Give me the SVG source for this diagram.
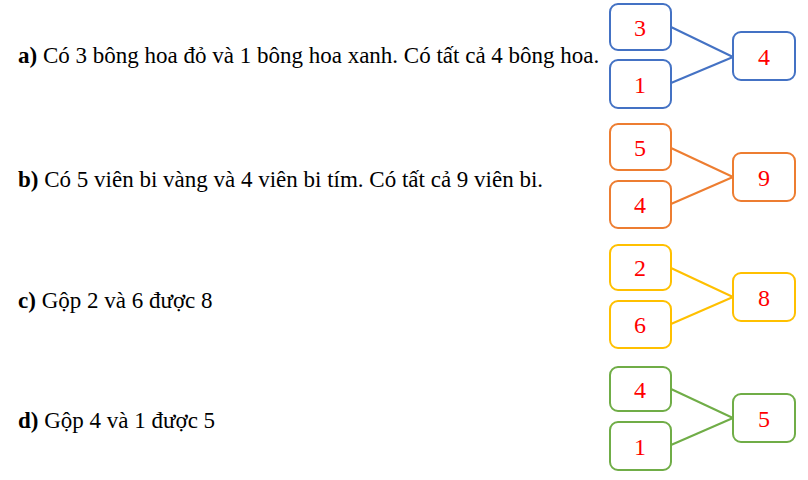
<svg xmlns="http://www.w3.org/2000/svg" width="808" height="480" viewBox="0 0 808 480">
<style>
.t{font-family:"Liberation Serif","Times New Roman",serif;font-size:23px;fill:#000}
.b{font-weight:bold}
.n{font-family:"Liberation Serif","Times New Roman",serif;font-size:24px;fill:#FF0000;text-anchor:middle}
rect{fill:#fff;stroke-width:2}
line{stroke-width:2}
.blue{stroke:#4472C4}.orange{stroke:#ED7D31}.yellow{stroke:#FFC000}.green{stroke:#70AD47}
</style>
<rect width="808" height="480" fill="#fff" stroke="none"/>
<g id="labels">
<text class="t" x="18" y="63"><tspan class="b">a)</tspan> Có 3 bông hoa đỏ và 1 bông hoa xanh. Có tất cả 4 bông hoa.</text>
<text class="t" x="18" y="187"><tspan class="b">b)</tspan> Có 5 viên bi vàng và 4 viên bi tím. Có tất cả 9 viên bi.</text>
<text class="t" x="18" y="308"><tspan class="b">c)</tspan> Gộp 2 và 6 được 8</text>
<text class="t" x="18" y="428"><tspan class="b">d)</tspan> Gộp 4 và 1 được 5</text>
</g>
<g id="connectors">
<line class="blue" x1="671" y1="27" x2="733" y2="57"/>
<line class="blue" x1="671" y1="83" x2="733" y2="57"/>
<line class="orange" x1="671" y1="148" x2="733" y2="177"/>
<line class="orange" x1="671" y1="204" x2="733" y2="177"/>
<line class="yellow" x1="671" y1="268" x2="733" y2="297"/>
<line class="yellow" x1="671" y1="324" x2="733" y2="297"/>
<line class="green" x1="671" y1="389" x2="733" y2="418"/>
<line class="green" x1="671" y1="445" x2="733" y2="418"/>
</g>
<g id="a1"><rect class="blue" x="610" y="4" width="61" height="46" rx="8"/><text class="n" x="640" y="35.5">3</text></g>
<g id="a2"><rect class="blue" x="610" y="60" width="61" height="48" rx="8"/><text class="n" x="640" y="92.5">1</text></g>
<g id="a3"><rect class="blue" x="733" y="32" width="62" height="48" rx="8"/><text class="n" x="764" y="64.5">4</text></g>
<g id="b1"><rect class="orange" x="610" y="124" width="61" height="46" rx="8"/><text class="n" x="640" y="155.5">5</text></g>
<g id="b2"><rect class="orange" x="610" y="181" width="61" height="47" rx="8"/><text class="n" x="640" y="213">4</text></g>
<g id="b3"><rect class="orange" x="733" y="153" width="62" height="48" rx="8"/><text class="n" x="764" y="185.5">9</text></g>
<g id="c1"><rect class="yellow" x="610" y="245" width="61" height="45" rx="8"/><text class="n" x="640" y="276">2</text></g>
<g id="c2"><rect class="yellow" x="610" y="301" width="61" height="47" rx="8"/><text class="n" x="640" y="333">6</text></g>
<g id="c3"><rect class="yellow" x="733" y="273" width="62" height="48" rx="8"/><text class="n" x="764" y="305.5">8</text></g>
<g id="d1"><rect class="green" x="610" y="367" width="61" height="44" rx="8"/><text class="n" x="640" y="397.5">4</text></g>
<g id="d2"><rect class="green" x="610" y="422" width="61" height="48" rx="8"/><text class="n" x="640" y="454.5">1</text></g>
<g id="d3"><rect class="green" x="733" y="394" width="62" height="48" rx="8"/><text class="n" x="764" y="426.5">5</text></g>
</svg>
